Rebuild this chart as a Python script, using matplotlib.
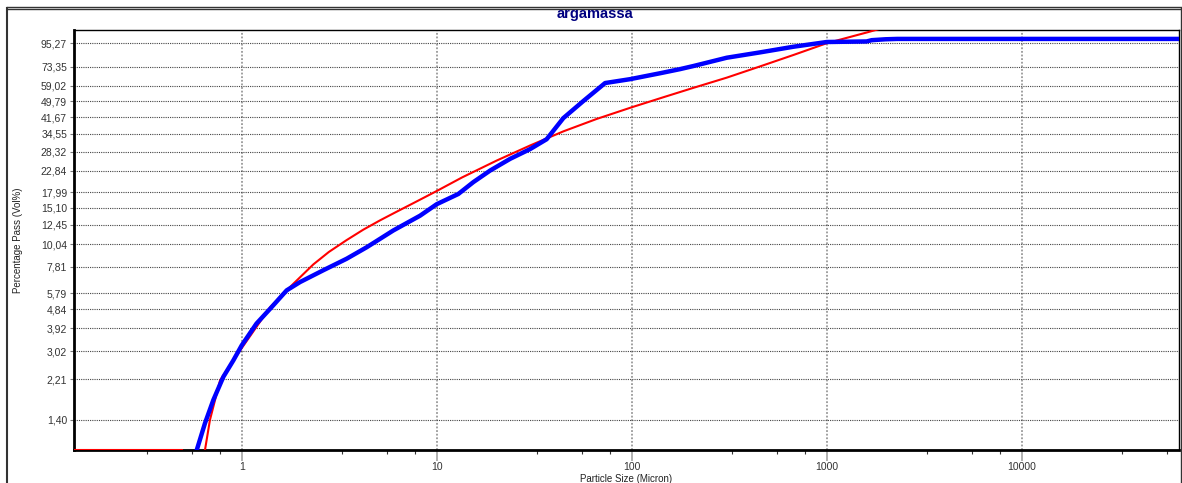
import matplotlib
matplotlib.use("Agg")
import matplotlib.pyplot as plt
from matplotlib.ticker import FixedLocator, FixedFormatter, NullFormatter
from matplotlib.lines import Line2D

plt.rcParams['font.family'] = ['Liberation Sans', 'DejaVu Sans']

# measured curve (blue)
size_meas = [0.57, 0.588, 0.648, 0.715, 0.805, 0.906, 1.0, 1.19, 1.40, 1.70, 1.99, 2.62,
             3.45, 4.38, 5.99, 8.21, 10.0, 12.9, 15.4, 18.8, 23.8, 30.1, 36.6, 44.6,
             56.5, 73.0, 98.0, 140, 177, 207, 307, 455, 674, 1000, 1600, 1700, 2000,
             2300, 64000]
pass_meas = [0.9, 1.0, 1.35, 1.75, 2.27, 2.73, 3.23, 4.12, 4.87, 5.98, 6.56, 7.49,
             8.52, 9.70, 11.7, 13.8, 15.7, 17.6, 20.1, 22.9, 26.1, 29.1, 32.5, 41.2,
             49.9, 61.0, 63.7, 68.1, 71.3, 73.8, 81.0, 86.0, 91.6, 96.6, 97.2, 98.6,
             99.6, 100.0, 100.0]

# fitted curve (red)
size_fit = [0.138, 0.495, 0.60, 0.648, 0.687, 0.774, 1.0, 1.40, 1.84, 2.33, 2.8,
            3.45, 4.2, 5.12, 6.2, 7.6, 10.0, 13.5, 20.3, 30.1, 44.6, 66.1, 100, 145,
            207, 307, 455, 674, 1000, 1634, 2000]
pass_fit = [1.0, 1.0, 0.5, 1.0, 1.40, 2.18, 3.13, 4.96, 6.44, 8.0, 9.2,
            10.5, 11.8, 13.1, 14.4, 15.9, 18.2, 21.2, 25.6, 30.3, 35.5, 40.8, 46.5, 52.0,
            57.8, 64.8, 73.5, 83.5, 95.3, 108, 114]

y_ticks = [1.40, 2.21, 3.02, 3.92, 4.84, 5.79, 7.81, 10.04, 12.45, 15.10, 17.99,
           22.84, 28.32, 34.55, 41.67, 49.79, 59.02, 73.35, 95.27]
x_ticks = [1, 10, 100, 1000, 10000]
x_minor_frac = [3.26, 5.55, 7.74]

W, H = 1182, 483
fig = plt.figure(figsize=(W / 100, H / 100), dpi=100)
ax = fig.add_axes([74 / W, (H - 450) / H, (1179 - 74) / W, (450 - 30) / H])

ax.plot(size_fit, pass_fit, color='#ff0000', lw=1.5, zorder=3)
ax.plot(size_meas, pass_meas, color='#0000ff', lw=3.2, zorder=4)

ax.set_xscale('log')
ax.set_yscale('log')
ax.set_xlim(0.138, 64000)
ax.set_ylim(1.0, 110.5)

ax.yaxis.set_major_locator(FixedLocator(y_ticks))
ax.yaxis.set_major_formatter(FixedFormatter([f"{v:.2f}".replace('.', ',') for v in y_ticks]))
ax.yaxis.set_minor_locator(FixedLocator([]))
ax.yaxis.set_minor_formatter(NullFormatter())

ax.xaxis.set_major_locator(FixedLocator(x_ticks))
ax.xaxis.set_major_formatter(FixedFormatter([str(v) for v in x_ticks]))
minors = [10.0 ** k * f for k in range(-1, 5) for f in x_minor_frac]
ax.xaxis.set_minor_locator(FixedLocator(minors))
ax.xaxis.set_minor_formatter(NullFormatter())

ax.tick_params(axis='y', which='major', direction='out', length=3, width=0.8,
               color='#777777', labelsize=7.5, labelcolor='#333333', pad=2)
ax.tick_params(axis='x', which='major', direction='out', length=8, width=1.3,
               color='#aaaaaa', labelsize=7.5, labelcolor='#333333', pad=1)
ax.tick_params(axis='x', which='minor', direction='out', length=3, width=0.8,
               color='#333333')

ax.grid(True, axis='y', which='major', color='#444444', lw=0.8, ls=(0, (1, 1)))
ax.grid(True, axis='x', which='major', color='#999999', lw=1.3, ls=(0, (1, 1)))
ax.set_axisbelow(True)

for side in ('left', 'bottom'):
    ax.spines[side].set_linewidth(2.0)
for side in ('top', 'right'):
    ax.spines[side].set_linewidth(1.0)

ax.set_xlabel('Particle Size (Micron)', fontsize=7, color='#222222', labelpad=1)
ax.set_ylabel('Percentage Pass (Vol%)', fontsize=7, color='#222222', labelpad=13)

fig.text(595 / W, 1 - 14 / H, 'argamassa', ha='center', va='center',
         fontsize=10.5, fontweight='bold', color='#000080')

# outer frame
fig.add_artist(Line2D([7 / W, 7 / W], [0, 1 - 8 / H], transform=fig.transFigure,
                      color='#333333', lw=1.5))
fig.add_artist(Line2D([7 / W, 1181 / W], [1 - 7 / H, 1 - 7 / H], transform=fig.transFigure,
                      color='#333333', lw=1.0))
fig.add_artist(Line2D([7 / W, 1181 / W], [1 - 9 / H, 1 - 9 / H], transform=fig.transFigure,
                      color='#333333', lw=1.0))
fig.add_artist(Line2D([1181 / W, 1181 / W], [0, 1 - 8 / H], transform=fig.transFigure,
                      color='#333333', lw=1.0))

fig.savefig('out.png', dpi=100)
